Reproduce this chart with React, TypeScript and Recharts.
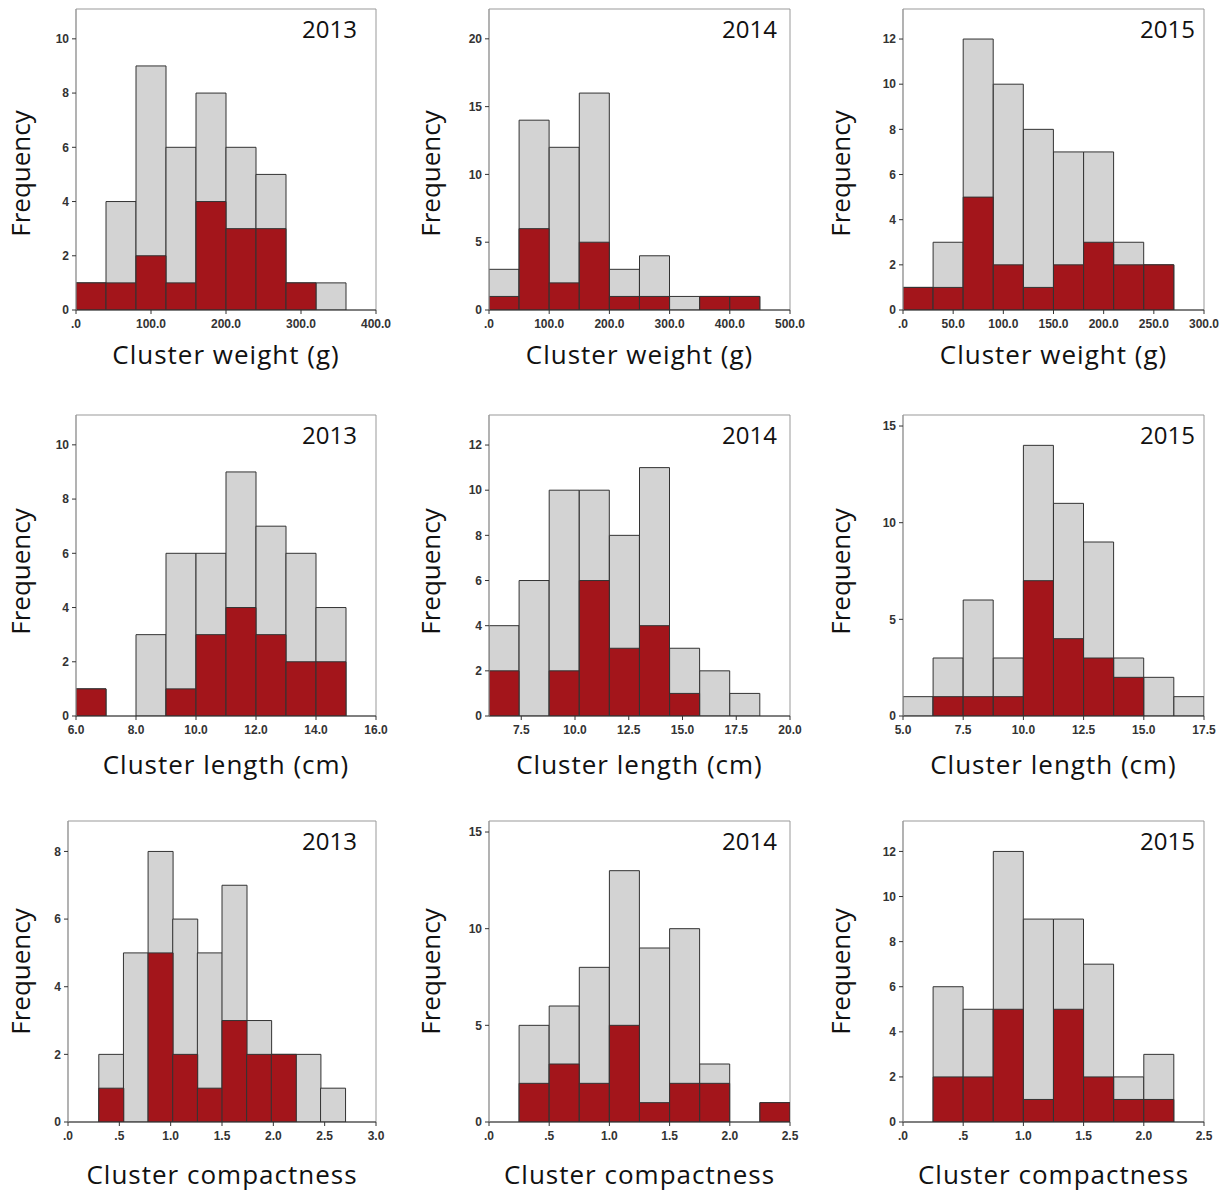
import { BarChart, Bar, XAxis, YAxis, ReferenceArea, Label } from "recharts";

// bin lower edges, bin width, total counts (grey) and red counts per panel
const weight2013Edges = [0, 40, 80, 120, 160, 200, 240, 280, 320];
const weight2013Total = [1, 4, 9, 6, 8, 6, 5, 1, 1];
const weight2013Red = [1, 1, 2, 1, 4, 3, 3, 1, 0];

const weight2014Edges = [0, 50, 100, 150, 200, 250, 300, 350, 400];
const weight2014Total = [3, 14, 12, 16, 3, 4, 1, 1, 1];
const weight2014Red = [1, 6, 2, 5, 1, 1, 0, 1, 1];

const weight2015Edges = [0, 30, 60, 90, 120, 150, 180, 210, 240];
const weight2015Total = [1, 3, 12, 10, 8, 7, 7, 3, 2];
const weight2015Red = [1, 1, 5, 2, 1, 2, 3, 2, 2];

const length2013Edges = [6, 7, 8, 9, 10, 11, 12, 13, 14];
const length2013Total = [1, 0, 3, 6, 6, 9, 7, 6, 4];
const length2013Red = [1, 0, 0, 1, 3, 4, 3, 2, 2];

const length2014Edges = [6, 7.4, 8.8, 10.2, 11.6, 13, 14.4, 15.8, 17.2];
const length2014Total = [4, 6, 10, 10, 8, 11, 3, 2, 1];
const length2014Red = [2, 0, 2, 6, 3, 4, 1, 0, 0];

const length2015Edges = [5, 6.25, 7.5, 8.75, 10, 11.25, 12.5, 13.75, 15, 16.25];
const length2015Total = [1, 3, 6, 3, 14, 11, 9, 3, 2, 1];
const length2015Red = [0, 1, 1, 1, 7, 4, 3, 2, 0, 0];

const compact2013Edges = [0.3, 0.54, 0.78, 1.02, 1.26, 1.5, 1.74, 1.98, 2.22, 2.46];
const compact2013Total = [2, 5, 8, 6, 5, 7, 3, 2, 2, 1];
const compact2013Red = [1, 0, 5, 2, 1, 3, 2, 2, 0, 0];

const compact2014Edges = [0.25, 0.5, 0.75, 1, 1.25, 1.5, 1.75, 2, 2.25];
const compact2014Total = [5, 6, 8, 13, 9, 10, 3, 0, 1];
const compact2014Red = [2, 3, 2, 5, 1, 2, 2, 0, 1];

const compact2015Edges = [0.25, 0.5, 0.75, 1, 1.25, 1.5, 1.75, 2];
const compact2015Total = [6, 5, 12, 9, 9, 7, 2, 3];
const compact2015Red = [2, 2, 5, 1, 5, 2, 1, 1];

const weightTicks2013 = [0, 100, 200, 300, 400];
const weightTicks2014 = [0, 100, 200, 300, 400, 500];
const weightTicks2015 = [0, 50, 100, 150, 200, 250, 300];
const lengthTicks2013 = [6, 8, 10, 12, 14, 16];
const lengthTicks2014 = [7.5, 10, 12.5, 15, 17.5, 20];
const lengthTicks2015 = [5, 7.5, 10, 12.5, 15, 17.5];
const compactTicks2013 = [0, 0.5, 1, 1.5, 2, 2.5, 3];
const compactTicks = [0, 0.5, 1, 1.5, 2, 2.5];

const yearLabels = ["2013", "2014", "2015"];
const xLabels = ["Cluster weight (g)", "Cluster length (cm)", "Cluster compactness"];

const panels = [
  { edges: weight2013Edges, bin: 40, total: weight2013Total, red: weight2013Red, xDomain: [0, 400], xTicks: weightTicks2013, yMax: 11.1, yTicks: [0, 2, 4, 6, 8, 10], row: 0, col: 0, plotLeft: 76 },
  { edges: weight2014Edges, bin: 50, total: weight2014Total, red: weight2014Red, xDomain: [0, 500], xTicks: weightTicks2014, yMax: 22.2, yTicks: [0, 5, 10, 15, 20], row: 0, col: 1, plotLeft: 79 },
  { edges: weight2015Edges, bin: 30, total: weight2015Total, red: weight2015Red, xDomain: [0, 300], xTicks: weightTicks2015, yMax: 13.33, yTicks: [0, 2, 4, 6, 8, 10, 12], row: 0, col: 2, plotLeft: 83 },
  { edges: length2013Edges, bin: 1, total: length2013Total, red: length2013Red, xDomain: [6, 16], xTicks: lengthTicks2013, yMax: 11.1, yTicks: [0, 2, 4, 6, 8, 10], row: 1, col: 0, plotLeft: 76 },
  { edges: length2014Edges, bin: 1.4, total: length2014Total, red: length2014Red, xDomain: [6, 20], xTicks: lengthTicks2014, yMax: 13.33, yTicks: [0, 2, 4, 6, 8, 10, 12], row: 1, col: 1, plotLeft: 79 },
  { edges: length2015Edges, bin: 1.25, total: length2015Total, red: length2015Red, xDomain: [5, 17.5], xTicks: lengthTicks2015, yMax: 15.57, yTicks: [0, 5, 10, 15], row: 1, col: 2, plotLeft: 83 },
  { edges: compact2013Edges, bin: 0.24, total: compact2013Total, red: compact2013Red, xDomain: [0, 3], xTicks: compactTicks2013, yMax: 8.9, yTicks: [0, 2, 4, 6, 8], row: 2, col: 0, plotLeft: 68 },
  { edges: compact2014Edges, bin: 0.25, total: compact2014Total, red: compact2014Red, xDomain: [0, 2.5], xTicks: compactTicks, yMax: 15.57, yTicks: [0, 5, 10, 15], row: 2, col: 1, plotLeft: 79 },
  { edges: compact2015Edges, bin: 0.25, total: compact2015Total, red: compact2015Red, xDomain: [0, 2.5], xTicks: compactTicks, yMax: 13.35, yTicks: [0, 2, 4, 6, 8, 10, 12], row: 2, col: 2, plotLeft: 83 },
];

const colX = [0, 410, 820];
const rowY = [0, 406, 812];
const plotRight = [376, 380, 384];
const yearInset = [19, 13, 9];
const xLabelGap = [36, 40, 44];
const freqShift = [14, 6, 0];

// SPSS style: one decimal, no leading zero
const fmt = (v: number) => {
  const s = v.toFixed(1);
  return s.startsWith("0.") ? s.slice(1) : s;
};

const tickStyle = { fontFamily: "Liberation Sans, Arial", fontSize: 12, fontWeight: 700, fill: "#333" };
const labelStyle = { fontFamily: "Open Sans", fontSize: 26, fill: "#111", textAnchor: "middle" as const };

function Histogram({ p }: { p: (typeof panels)[number] }) {
  const rows = p.edges.map((e, i) => ({ mid: e + p.bin / 2, total: p.total[i], red: p.red[i] }));
  return (
    <div style={{ position: "absolute", left: colX[p.col], top: rowY[p.row] }}>
      <BarChart
        width={410}
        height={380}
        data={rows}
        barCategoryGap={0}
        barGap={0}
        margin={{ top: 9, right: 410 - plotRight[p.col], left: 0, bottom: 0 }}
      >
        <XAxis
          xAxisId="a"
          type="number"
          dataKey="mid"
          domain={p.xDomain}
          ticks={p.xTicks}
          interval={0}
          allowDataOverflow
          tickFormatter={fmt}
          height={70}
          tick={tickStyle}
          tickSize={4}
          tickMargin={5}
          stroke="#333"
        >
          <Label
            value={xLabels[p.row]}
            position="insideTop"
            offset={xLabelGap[p.row]}
            style={{ ...labelStyle, letterSpacing: 1 }}
          />
        </XAxis>
        <XAxis xAxisId="b" type="number" dataKey="mid" domain={p.xDomain} allowDataOverflow hide />
        <YAxis
          type="number"
          domain={[0, p.yMax]}
          ticks={p.yTicks}
          interval={0}
          allowDataOverflow
          width={p.plotLeft}
          tick={tickStyle}
          tickSize={4}
          tickMargin={3}
          axisLine={{ stroke: "#999" }}
          tickLine={{ stroke: "#333" }}
        >
          <Label
            value="Frequency"
            angle={-90}
            position="insideLeft"
            offset={21}
            dy={freqShift[p.row]}
            style={labelStyle}
          />
        </YAxis>
        <Bar xAxisId="a" dataKey="total" fill="#d3d3d3" stroke="#333" strokeWidth={1} isAnimationActive={false} />
        <Bar xAxisId="b" dataKey="red" fill="#a3151b" stroke="#333" strokeWidth={1} isAnimationActive={false} />
        <ReferenceArea
          xAxisId="a"
          x1={p.xDomain[0]}
          x2={p.xDomain[1]}
          y1={0}
          y2={p.yMax}
          fill="none"
          stroke="#999"
          strokeWidth={1}
        >
          <Label
            value={yearLabels[p.col]}
            position="insideTopRight"
            offset={12}
            dx={12 - yearInset[p.col]}
            style={{ fontFamily: "Open Sans", fontSize: 24, fill: "#111" }}
          />
        </ReferenceArea>
      </BarChart>
    </div>
  );
}

export default function App() {
  return (
    <div style={{ position: "absolute", left: 0, top: 0, width: 1230, height: 1193, background: "#fff" }}>
      {panels.map((p, i) => (
        <Histogram key={i} p={p} />
      ))}
    </div>
  );
}
